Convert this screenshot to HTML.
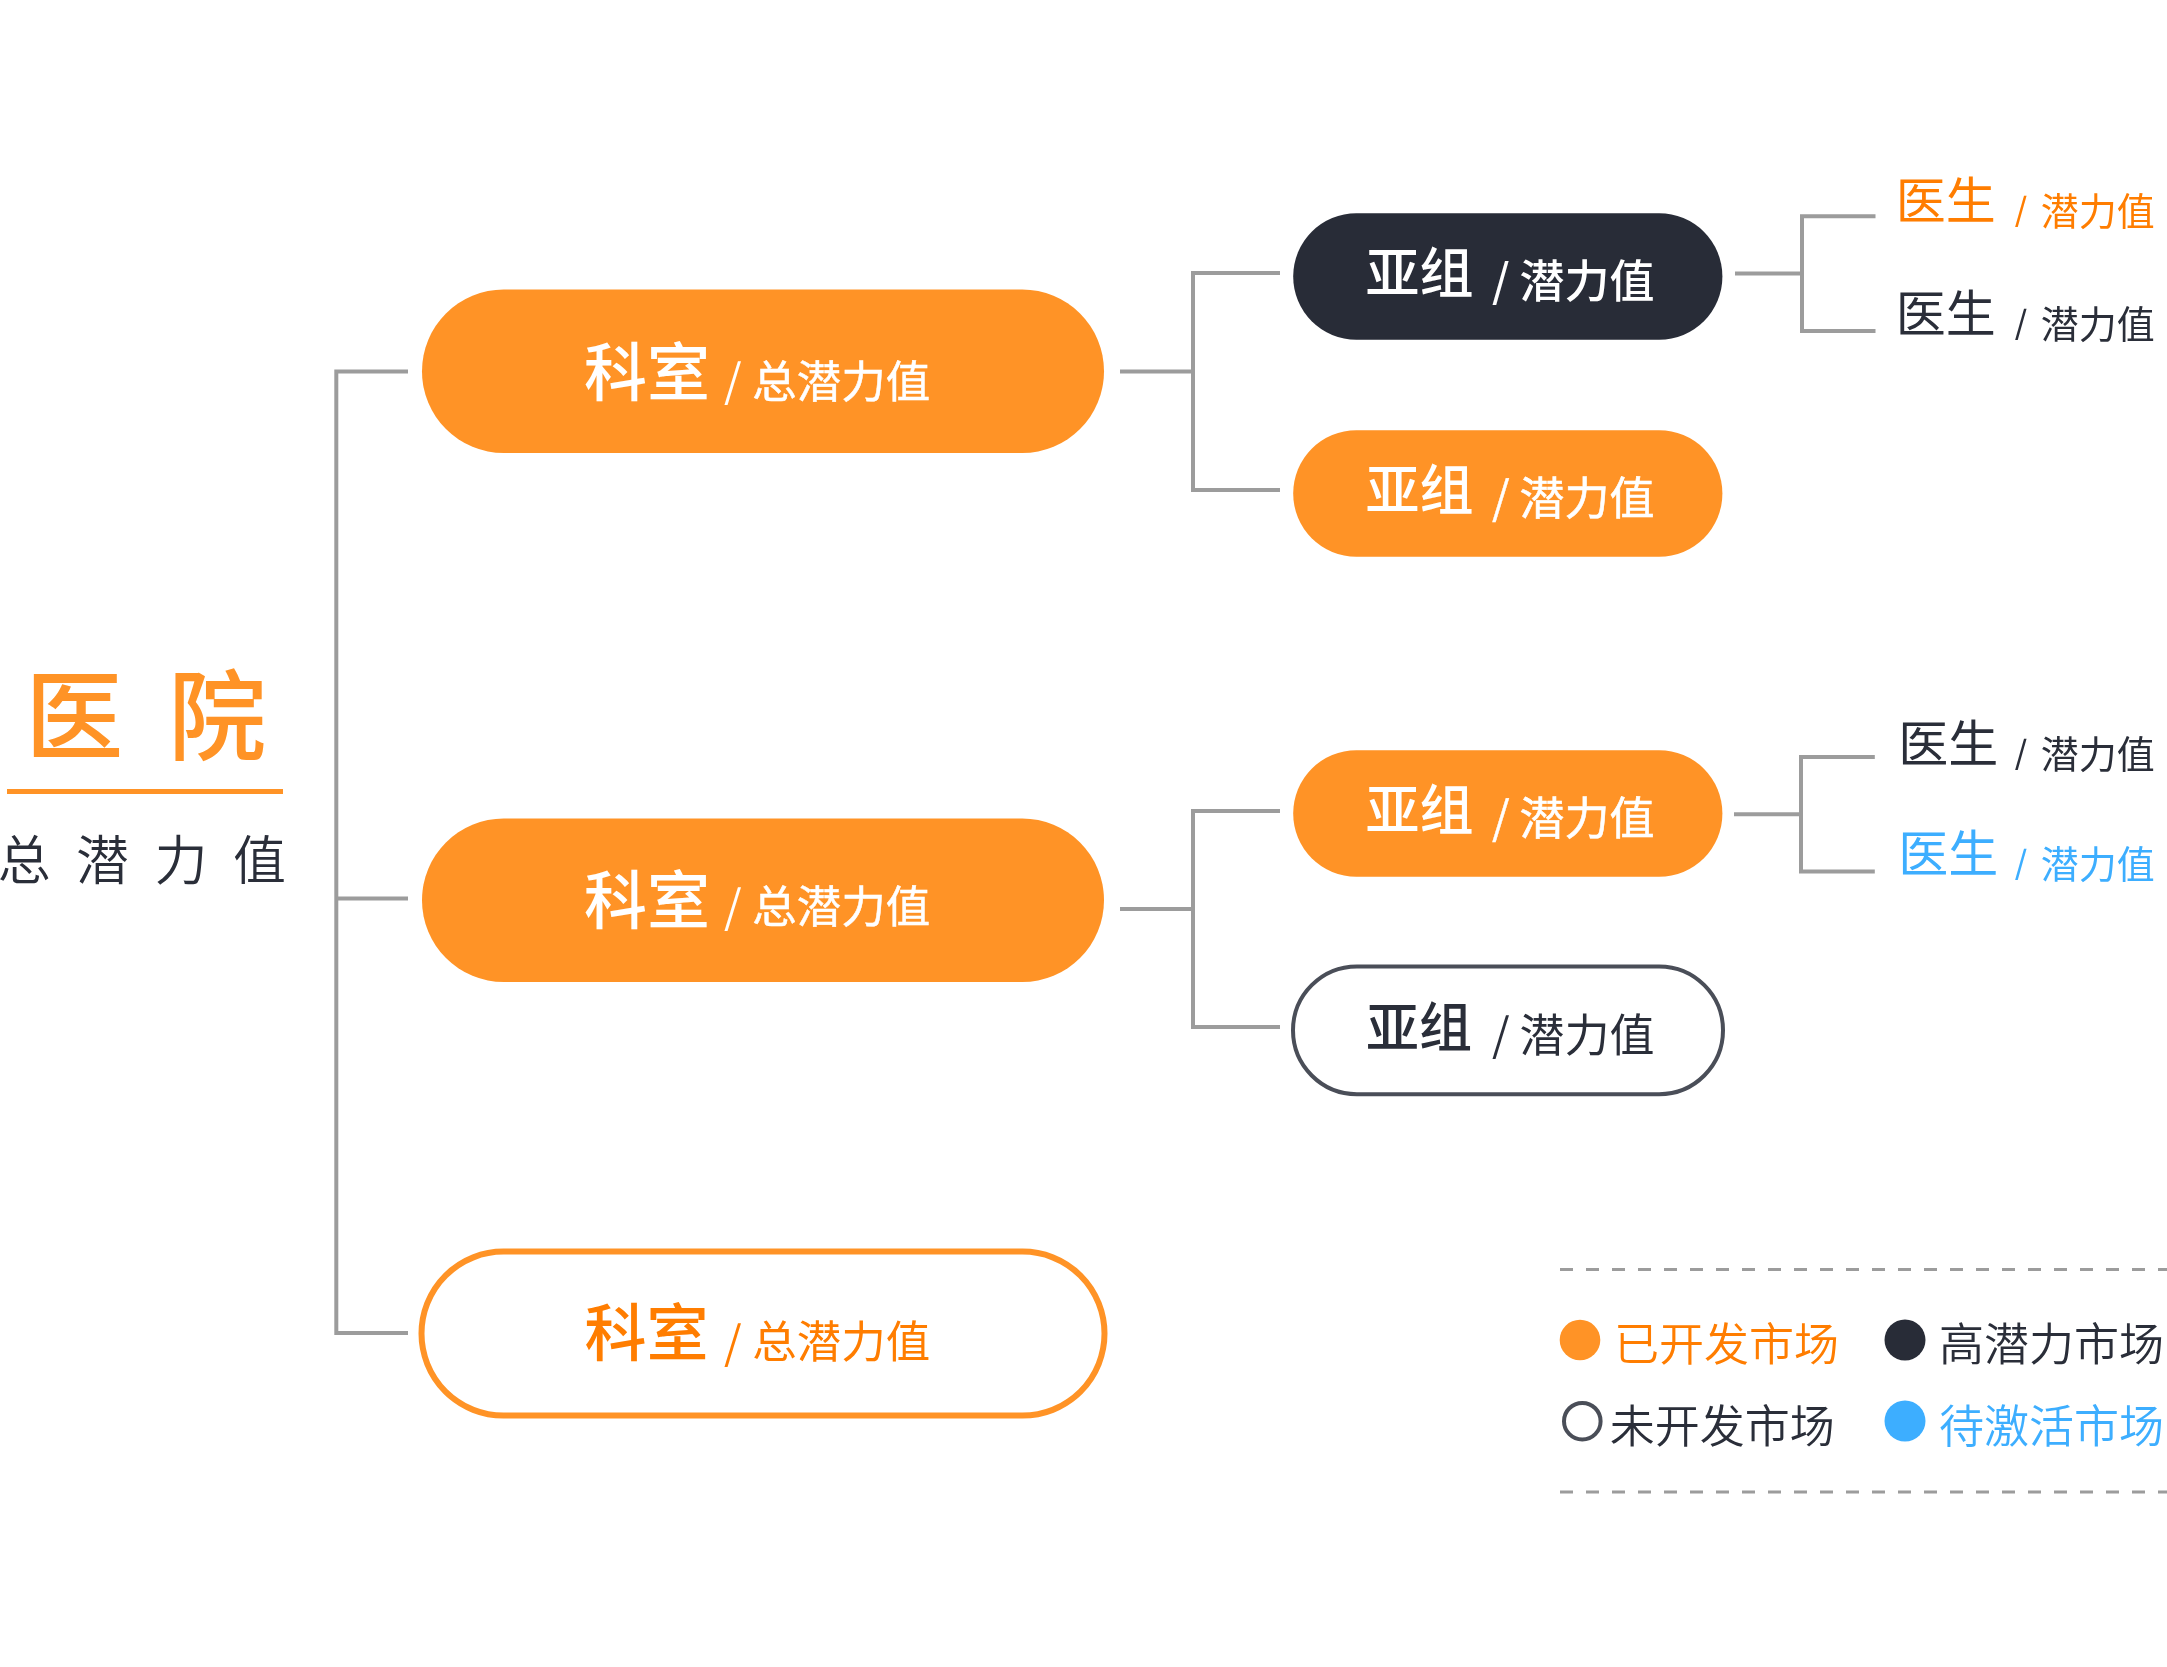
<!DOCTYPE html>
<html lang="zh-CN">
<head>
<meta charset="utf-8">
<title>医院 总潜力值</title>
<style>
html,body{margin:0;padding:0;background:#fff;}
body{width:2167px;height:1667px;overflow:hidden;}
svg{display:block;will-change:transform;}
text{font-family:"Liberation Sans","Noto Sans CJK SC",sans-serif;}
text.sl{font-family:"Noto Sans CJK SC","Liberation Sans",sans-serif;}
.ln{stroke:#9c9c9c;stroke-width:4;fill:none;}
</style>
</head>
<body>
<svg width="2167" height="1667" viewBox="0 0 2167 1667">
<g class="ln">
<path d="M408 371.5H336.3V1333H408"/>
<path d="M336.3 898.5H408"/>
<path d="M1120 371.5H1193"/>
<path d="M1280 273H1193V490H1280"/>
<path d="M1120 909H1193"/>
<path d="M1280 811H1193V1027H1280"/>
<path d="M1735 273.4H1802"/>
<path d="M1875.5 216.2H1802V331H1875.5"/>
<path d="M1734 814.3H1801"/>
<path d="M1874.8 757H1801V871.4H1874.8"/>
</g>
<text x="25.3" y="752.3" font-size="98" font-weight="500" fill="#ff9326" style="letter-spacing:45px">医院</text>
<rect x="7" y="789" width="276" height="5" fill="#ff9326"/>
<text x="-2.3" y="880.2" font-size="53" font-weight="350" fill="#2a2e39" style="letter-spacing:25.4px">总潜力值</text>
<rect x="422" y="289.5" width="682" height="163.5" rx="81.75" fill="#ff9326"/>
<text x="584" y="394.5" font-size="63" font-weight="500" fill="#fff">科室</text><text class="sl" x="723.9" y="397" font-size="45" font-weight="400" fill="#fff">/</text><text x="752.3" y="397.5" font-size="44.5" font-weight="400" fill="#fff" stroke="#fff" stroke-width="0.5">总潜力值</text>
<rect x="422" y="818.5" width="682" height="163.5" rx="81.75" fill="#ff9326"/>
<text x="584" y="922.9" font-size="63" font-weight="500" fill="#fff">科室</text><text class="sl" x="723.9" y="923.2" font-size="45" font-weight="400" fill="#fff">/</text><text x="752.3" y="923.1" font-size="44.5" font-weight="400" fill="#fff" stroke="#fff" stroke-width="0.5">总潜力值</text>
<rect x="421.5" y="1251.6" width="683" height="164" rx="82" fill="#fff" stroke="#ff9326" stroke-width="6"/>
<text x="584.5" y="1356.1" font-size="62" font-weight="500" fill="#ff7d00">科室</text><text class="sl" x="723.9" y="1358.6" font-size="45" font-weight="400" fill="#ff7d00">/</text><text x="752.3" y="1357.8" font-size="44.5" font-weight="400" fill="#ff7d00">总潜力值</text>
<rect x="1293.2" y="213.3" width="429.2" height="126.4" rx="63.2" fill="#282c37"/>
<text x="1365.4" y="293.4" font-size="54" font-weight="500" fill="#fff">亚组</text><text class="sl" x="1492" y="297.2" font-size="45" font-weight="500" fill="#fff">/</text><text x="1519.5" y="297.5" font-size="45" font-weight="500" fill="#fff">潜力值</text>
<rect x="1293.2" y="430.3" width="429.2" height="126.4" rx="63.2" fill="#ff9326"/>
<text x="1365.4" y="510.4" font-size="54" font-weight="500" fill="#fff">亚组</text><text class="sl" x="1492" y="514.2" font-size="45" font-weight="400" fill="#fff" stroke="#fff" stroke-width="0.4">/</text><text x="1519.5" y="514.5" font-size="45" font-weight="400" fill="#fff" stroke="#fff" stroke-width="0.6">潜力值</text>
<rect x="1293.2" y="750.3" width="429.2" height="126.4" rx="63.2" fill="#ff9326"/>
<text x="1365.4" y="830.4" font-size="54" font-weight="500" fill="#fff">亚组</text><text class="sl" x="1492" y="834.2" font-size="45" font-weight="400" fill="#fff" stroke="#fff" stroke-width="0.4">/</text><text x="1519.5" y="834.5" font-size="45" font-weight="400" fill="#fff" stroke="#fff" stroke-width="0.6">潜力值</text>
<rect x="1293" y="966.4" width="430" height="127.8" rx="63.9" fill="#fff" stroke="#4a4e58" stroke-width="4"/>
<text x="1366" y="1046.5" font-size="53" font-weight="500" fill="#2a2e39">亚组</text><text class="sl" x="1492" y="1051.2" font-size="45" font-weight="400" fill="#2a2e39">/</text><text x="1519.5" y="1051.5" font-size="45" font-weight="400" fill="#2a2e39">潜力值</text>
<text x="1895.8" y="218.8" font-size="50" font-weight="400" fill="#ff7d00">医生</text><text class="sl" x="2014.7" y="220.6" font-size="32" font-weight="500" fill="#ff7d00">/</text><text x="2040.8" y="224.8" font-size="38" font-weight="400" fill="#ff7d00">潜力值</text>
<text x="1895.8" y="332.0" font-size="50" font-weight="400" fill="#2a2e39">医生</text><text class="sl" x="2014.7" y="333.9" font-size="32" font-weight="500" fill="#2a2e39">/</text><text x="2040.8" y="338.1" font-size="38" font-weight="400" fill="#2a2e39">潜力值</text>
<text x="1898.2" y="761.9" font-size="50" font-weight="400" fill="#2a2e39">医生</text><text class="sl" x="2014.7" y="763.6" font-size="32" font-weight="500" fill="#2a2e39">/</text><text x="2040.8" y="767.8" font-size="38" font-weight="400" fill="#2a2e39">潜力值</text>
<text x="1898.2" y="872.0" font-size="50" font-weight="400" fill="#3daeff">医生</text><text class="sl" x="2014.7" y="874.0" font-size="32" font-weight="500" fill="#3daeff">/</text><text x="2040.8" y="878.2" font-size="38" font-weight="400" fill="#3daeff">潜力值</text>
<path d="M1560 1269.5H2167M1560 1492H2167" stroke="#9c9c9c" stroke-width="3" stroke-dasharray="13 13" fill="none"/>
<circle cx="1580" cy="1340" r="20.3" fill="#ff9326"/>
<text x="1613.9" y="1361.3" font-size="45" font-weight="350" fill="#ff7d00">已开发市场</text>
<circle cx="1905" cy="1340" r="20.5" fill="#282c37"/>
<text x="1939" y="1361.1" font-size="45" font-weight="350" fill="#2a2e39">高潜力市场</text>
<circle cx="1582.3" cy="1421.2" r="18.3" fill="#fff" stroke="#4a4e58" stroke-width="4"/>
<text x="1609.7" y="1442.5" font-size="45" font-weight="350" fill="#2a2e39">未开发市场</text>
<circle cx="1905" cy="1421" r="20.5" fill="#3daeff"/>
<text x="1939" y="1442.5" font-size="45" font-weight="350" fill="#3daeff">待激活市场</text>
</svg>
</body>
</html>
